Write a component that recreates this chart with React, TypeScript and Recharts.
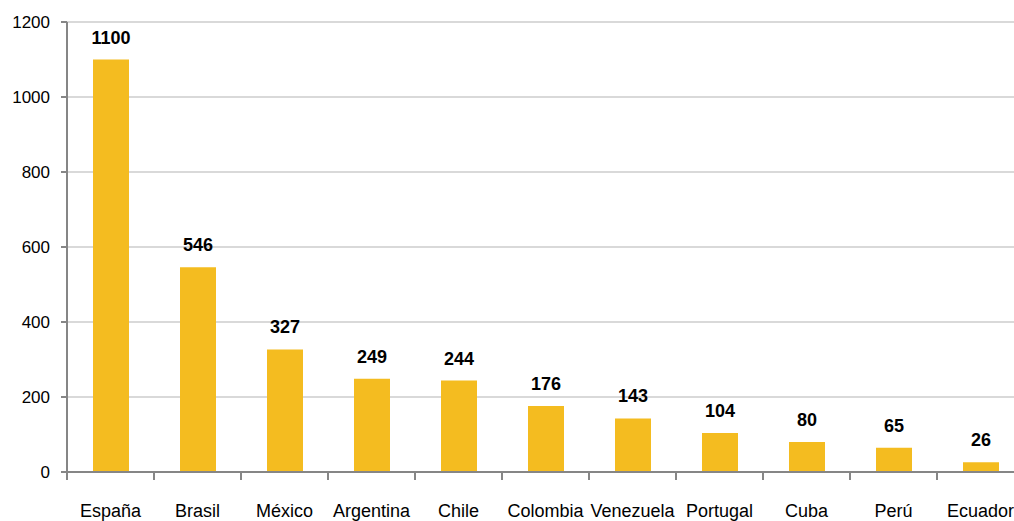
import { BarChart, Bar, XAxis, YAxis, CartesianGrid, LabelList } from "recharts"

const countries = ["España", "Brasil", "México", "Argentina", "Chile", "Colombia", "Venezuela", "Portugal", "Cuba", "Perú", "Ecuador"]
const totals = [1100, 546, 327, 249, 244, 176, 143, 104, 80, 65, 26]
const yTicks = [0, 200, 400, 600, 800, 1000, 1200]

const rows = countries.map((name, i) => ({ name, value: totals[i] }))

const FONT = "'Liberation Sans', Arial, sans-serif"
const AXIS_GREY = "#868686"

// category label plus a tick mark on the left edge of each band
function CountryTick(props: any) {
  const { x, y, payload, width } = props
  const half = width / countries.length / 2
  return (
    <g>
      <line x1={x - half} y1={y} x2={x - half} y2={y + 8} stroke={AXIS_GREY} strokeWidth={2} />
      <text x={x} y={y + 45} textAnchor="middle" fontSize={18} fontFamily={FONT} fill="#000">
        {payload.value}
      </text>
    </g>
  )
}

export default function App() {
  return (
    <div style={{ position: "fixed", left: 0, top: 0, width: 1014, height: 521, overflow: "hidden", background: "#fff" }}>
      <BarChart width={1030} height={521} data={rows} margin={{ top: 22, right: 6, bottom: 0, left: 0 }}>
        <CartesianGrid vertical={false} stroke="#d9d9d9" strokeWidth={2} />
        <XAxis
          dataKey="name"
          height={49}
          tickLine={false}
          tickSize={0}
          tickMargin={0}
          axisLine={{ stroke: AXIS_GREY, strokeWidth: 2 }}
          tick={<CountryTick />}
          interval={0}
        />
        <YAxis
          width={67}
          domain={[0, 1200]}
          ticks={yTicks}
          tickSize={6}
          tickMargin={11}
          tickLine={{ stroke: AXIS_GREY, strokeWidth: 2 }}
          axisLine={{ stroke: AXIS_GREY, strokeWidth: 2 }}
          tick={{ fill: "#000", fontSize: 17, fontFamily: FONT }}
        />
        <Bar dataKey="value" fill="#f4bc20" barSize={36} isAnimationActive={false}>
          <LabelList dataKey="value" position="top" offset={16} fill="#000" fontSize={18} fontWeight="bold" fontFamily={FONT} />
        </Bar>
      </BarChart>
    </div>
  )
}
